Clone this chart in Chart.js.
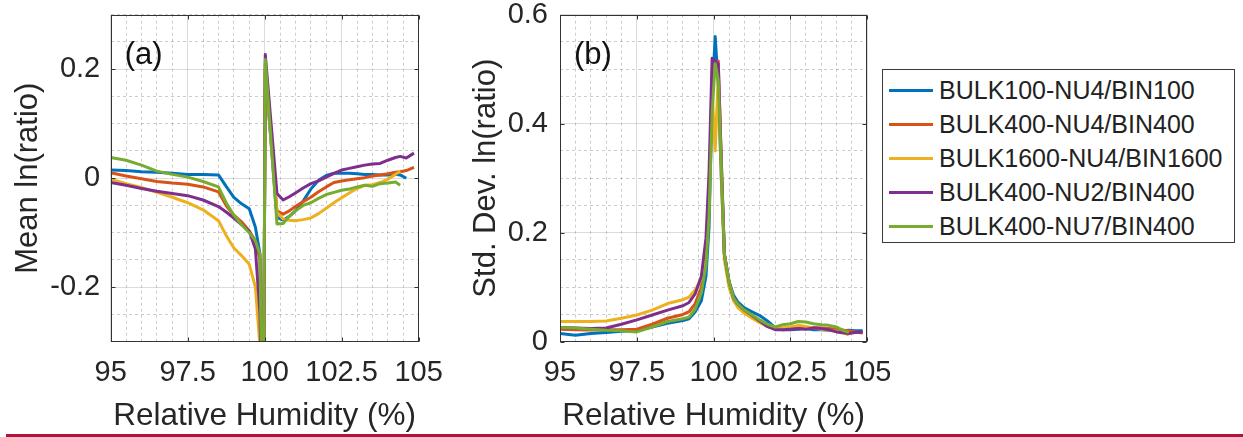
<!DOCTYPE html>
<html><head><meta charset="utf-8">
<script src="https://cdn.jsdelivr.net/npm/chart.js@4.4.1/dist/chart.umd.min.js"></script>
<style>
html,body{margin:0;padding:0;background:#fff;}
#wrap{position:relative;width:1243px;height:437px;overflow:hidden;font-family:"Liberation Sans",Arial,Helvetica,sans-serif;}
canvas{position:absolute;top:0;}
#cA{left:0;}
#cB{left:440px;}
#legend{position:absolute;left:882px;top:69px;width:353px;height:174px;box-sizing:border-box;border:1px solid #3a3a3a;background:#fff;padding-top:3px;}
.row{height:34px;display:flex;align-items:center;}
.sw{display:inline-block;width:44px;height:3px;margin-left:6px;}
.lt{margin-left:6px;font-size:25px;color:#222;white-space:nowrap;}
#rule{position:absolute;left:6px;top:434px;width:1237px;height:3px;background:#b5123a;}
</style>
</head><body>
<div id="wrap">
<canvas id="cA" width="470" height="437"></canvas>
<canvas id="cB" width="460" height="437"></canvas>
<div id="legend"></div>
<div id="rule"></div>
</div>
<script>
// ---------- data ----------
const seriesNames = ['BULK100-NU4/BIN100','BULK400-NU4/BIN400','BULK1600-NU4/BIN1600','BULK400-NU2/BIN400','BULK400-NU7/BIN400'];
const seriesColors = ['#0072BD','#D95319','#EDB120','#7E2F8E','#77AC30'];

const xTickLabels = ['95','97.5','100','102.5','105'];
const yTickLabelsA = ['-0.2','0','0.2'];
const yTickLabelsB = ['0','0.2','0.4','0.6'];

// panel (a): mean ln(ratio)
const rhA = [95,95.5,96,96.5,97,97.5,98,98.5,98.75,99,99.25,99.5,99.7,99.85,99.95,100.02,100.4,100.6,100.8,101,101.25,101.5,101.75,102,102.25,102.5,102.75,103,103.25,103.5,103.75,104,104.25,104.4,104.6,104.85];
const meanBulk100Nu4 = [0.015,0.014,0.012,0.011,0.009,0.007,0.007,0.006,-0.015,-0.035,-0.047,-0.056,-0.09,-0.14,-0.6,0.2,-0.072,-0.077,-0.07,-0.06,-0.042,-0.02,-0.004,0.005,0.009,0.009,0.009,0.008,0.007,0.007,0.006,0.006,0.007,0.006,0.0,null];
const meanBulk400Nu4 = [0.010,0.004,-0.001,-0.006,-0.009,-0.011,-0.016,-0.025,-0.05,-0.068,-0.08,-0.097,-0.115,-0.15,-0.6,0.21,-0.06,-0.066,-0.06,-0.052,-0.043,-0.035,-0.025,-0.016,-0.008,-0.005,-0.003,-0.001,0.001,0.004,0.006,0.008,0.011,0.012,0.014,0.02];
const meanBulk1600Nu4 = [-0.002,-0.01,-0.017,-0.026,-0.035,-0.045,-0.058,-0.078,-0.105,-0.128,-0.142,-0.158,-0.2,-0.31,-0.6,0.2,-0.063,-0.075,-0.077,-0.078,-0.076,-0.073,-0.065,-0.055,-0.045,-0.036,-0.027,-0.019,-0.013,-0.012,-0.008,-0.002,0.007,0.013,null,null];
const meanBulk400Nu2 = [-0.008,-0.013,-0.019,-0.024,-0.028,-0.032,-0.04,-0.052,-0.062,-0.073,-0.085,-0.097,-0.13,-0.25,-0.6,0.227,-0.028,-0.04,-0.034,-0.027,-0.018,-0.01,-0.005,0.002,0.009,0.015,0.018,0.021,0.024,0.026,0.027,0.033,0.038,0.04,0.037,0.046];
const meanBulk400Nu7 = [0.038,0.033,0.024,0.013,0.007,0.002,-0.006,-0.016,-0.045,-0.068,-0.085,-0.1,-0.115,-0.14,-0.6,0.218,-0.084,-0.083,-0.07,-0.06,-0.05,-0.045,-0.037,-0.03,-0.026,-0.022,-0.02,-0.016,-0.013,-0.015,-0.01,-0.009,-0.007,-0.013,null,null];

// panel (b): std. dev. ln(ratio)
const rhB = [95,95.5,96,96.5,97,97.5,98,98.5,99,99.2,99.4,99.6,99.75,99.85,99.95,100.05,100.15,100.25,100.35,100.5,100.65,100.8,101,101.25,101.5,101.75,102,102.25,102.5,102.75,103,103.25,103.5,103.75,104,104.25,104.4,104.6,104.85];
const sdBulk100Nu4 = [0.015,0.012,0.015,0.017,0.019,0.021,0.027,0.034,0.039,0.042,0.055,0.075,0.12,0.21,0.45,0.56,0.47,0.3,0.16,0.11,0.085,0.072,0.062,0.055,0.048,0.038,0.026,0.022,0.022,0.023,0.024,0.022,0.022,0.021,0.02,0.02,0.021,0.02,0.02];
const sdBulk400Nu4 = [0.023,0.022,0.0215,0.022,0.022,0.023,0.032,0.043,0.05,0.055,0.07,0.1,0.16,0.26,0.46,0.51,0.515,0.33,0.16,0.11,0.078,0.066,0.056,0.046,0.037,0.028,0.024,0.024,0.025,0.026,0.026,0.026,0.025,0.024,0.023,0.021,0.02,0.018,0.016];
const sdBulk1600Nu4 = [0.037,0.037,0.037,0.038,0.043,0.049,0.058,0.07,0.077,0.082,0.095,0.115,0.16,0.25,0.46,0.35,0.49,0.3,0.15,0.1,0.075,0.062,0.052,0.043,0.035,0.028,0.025,0.025,0.027,0.03,0.028,0.025,0.023,0.021,0.019,0.016,0.012,null,null];
const sdBulk400Nu2 = [0.026,0.025,0.024,0.025,0.032,0.04,0.049,0.058,0.066,0.072,0.088,0.12,0.19,0.31,0.52,0.515,0.51,0.33,0.16,0.11,0.08,0.068,0.058,0.048,0.038,0.028,0.022,0.022,0.023,0.024,0.023,0.025,0.024,0.022,0.018,0.016,0.015,0.017,0.018];
const sdBulk400Nu7 = [0.026,0.025,0.023,0.021,0.02,0.018,0.027,0.037,0.042,0.045,0.06,0.09,0.14,0.23,0.42,0.51,0.48,0.32,0.16,0.11,0.08,0.068,0.058,0.049,0.04,0.032,0.027,0.031,0.033,0.037,0.036,0.033,0.031,0.03,0.027,0.02,0.017,null,null];

// ---------- helpers ----------
const FONT = '"Liberation Sans", Arial, Helvetica, sans-serif';
const TXT = '#262626';
function labelFor(list, v){
  for (const s of list){ if (Math.abs(parseFloat(s) - v) < 1e-6) return s; }
  return null;
}
function toPoints(xs, ys){
  const out = [];
  xs.forEach((x,i)=>{ if (ys[i] !== null && ys[i] !== undefined) out.push({x:x, y:ys[i]}); });
  return out;
}
function makeDatasets(xs, arrays){
  return arrays.map((ys,i)=>({
    label: seriesNames[i],
    data: toPoints(xs, ys),
    borderColor: seriesColors[i],
    backgroundColor: seriesColors[i],
    borderWidth: 3,
    pointRadius: 0,
    tension: 0,
    fill: false,
    clip: 0,
    borderJoinStyle: 'round',
    order: arrays.length - 1 - i
  }));
}

const boxPlugin = {
  id: 'panelBox',
  afterDatasetsDraw(chart, args, opts){
    const {ctx, chartArea:a} = chart;
    const sx = chart.scales.x, sy = chart.scales.y;
    ctx.save();
    ctx.strokeStyle = '#333';
    ctx.lineWidth = 1;
    const L = Math.round(a.left)+0.5, R = Math.round(a.right)-0.5, T = Math.round(a.top)+0.5, B = Math.round(a.bottom)-0.5;
    ctx.strokeRect(L, T, R-L, B-T);
    ctx.beginPath();
    sx.ticks.forEach(t=>{
      if (labelFor(opts.xLabels, t.value) === null) return;
      const p = Math.round(sx.getPixelForValue(t.value))+0.5;
      ctx.moveTo(p, B); ctx.lineTo(p, B-4);
      ctx.moveTo(p, T); ctx.lineTo(p, T+4);
    });
    sy.ticks.forEach(t=>{
      if (labelFor(opts.yLabels, t.value) === null) return;
      const p = Math.round(sy.getPixelForValue(t.value))+0.5;
      ctx.moveTo(L, p); ctx.lineTo(L+4, p);
      ctx.moveTo(R, p); ctx.lineTo(R-4, p);
    });
    ctx.stroke();
    ctx.fillStyle = '#111';
    ctx.font = '31px ' + FONT;
    ctx.textBaseline = 'middle';
    ctx.textAlign = 'left';
    ctx.fillText(opts.label, a.left + 14, a.top + 41);
    ctx.restore();
  }
};

function makeScales(cfg){
  const isMajorX = v => labelFor(xTickLabels, v) !== null;
  const isMajorY = v => labelFor(cfg.yLabels, v) !== null;
  return {
    x: {
      type: 'linear', min: 95, max: 105,
      afterFit: s => { s.height = cfg.xHeight; s.paddingLeft = 0; s.paddingRight = 0; s.paddingTop = 0; s.paddingBottom = 0; },
      ticks: {
        stepSize: 0.5, autoSkip: false, maxRotation: 0, padding: 17,
        color: TXT, font: {family: FONT, size: 29, lineHeight: 1},
        callback: v => labelFor(xTickLabels, v) || ''
      },
      grid: {
        drawTicks: false, lineWidth: 1,
        color: c => (c.tick && isMajorX(c.tick.value)) ? 'rgba(0,0,0,0.14)' : 'rgba(0,0,0,0.2)'
      },
      border: {display: false, dash: c => (c.tick && !isMajorX(c.tick.value)) ? [3,3] : []},
      title: {display: true, text: 'Relative Humidity (%)', color: TXT, font: {family: FONT, size: 31.5, lineHeight: 1}, padding: {top: 0, bottom: 5}}
    },
    y: {
      type: 'linear', min: cfg.yMin, max: cfg.yMax,
      afterFit: s => { s.width = cfg.yWidth; s.paddingLeft = 0; s.paddingRight = 0; s.paddingTop = 0; s.paddingBottom = 0; },
      ticks: {
        stepSize: 0.05, autoSkip: false, padding: cfg.yTickPad,
        color: TXT, font: {family: FONT, size: 29, lineHeight: 1},
        callback: v => labelFor(cfg.yLabels, v) || ''
      },
      grid: {
        drawTicks: false, lineWidth: 1,
        color: c => (c.tick && isMajorY(c.tick.value)) ? 'rgba(0,0,0,0.14)' : 'rgba(0,0,0,0.2)'
      },
      border: {display: false, dash: c => (c.tick && !isMajorY(c.tick.value)) ? [3,3] : []},
      title: {display: true, text: cfg.yTitle, color: TXT, font: {family: FONT, size: 31, lineHeight: 1}, padding: {top: cfg.yTitlePad, bottom: 0}}
    }
  };
}

function makeChart(id, xs, arrays, cfg){
  return new Chart(document.getElementById(id), {
    type: 'line',
    data: {datasets: makeDatasets(xs, arrays)},
    options: {
      responsive: false, animation: false, devicePixelRatio: 1,
      layout: {padding: {left: 0, top: cfg.padTop, right: cfg.padRight, bottom: 0}},
      plugins: {legend: {display: false}, tooltip: {enabled: false}, title: {display: false},
        panelBox: {label: cfg.label, xLabels: xTickLabels, yLabels: cfg.yLabels}},
      scales: makeScales(cfg)
    },
    plugins: [boxPlugin]
  });
}

makeChart('cA', rhA, [meanBulk100Nu4, meanBulk400Nu4, meanBulk1600Nu4, meanBulk400Nu2, meanBulk400Nu7], {
  label: '(a)', yMin: -0.3, yMax: 0.3, yLabels: yTickLabelsA, yTitle: 'Mean ln(ratio)',
  yWidth: 110.7, xHeight: 95.3, padTop: 14.7, padRight: 470 - 418.6, yTickPad: 10.5, yTitlePad: 12.5
});
makeChart('cB', rhB, [sdBulk100Nu4, sdBulk400Nu4, sdBulk1600Nu4, sdBulk400Nu2, sdBulk400Nu7], {
  label: '(b)', yMin: 0, yMax: 0.6, yLabels: yTickLabelsB, yTitle: 'Std. Dev. ln(ratio)',
  yWidth: 120, xHeight: 95.3, padTop: 14.7, padRight: 460 - 427.3, yTickPad: 12, yTitlePad: 31
});

const lg = document.getElementById('legend');
seriesNames.forEach((n,i)=>{
  const r = document.createElement('div'); r.className = 'row';
  const s = document.createElement('span'); s.className = 'sw'; s.style.background = seriesColors[i];
  const t = document.createElement('span'); t.className = 'lt'; t.textContent = n;
  r.appendChild(s); r.appendChild(t); lg.appendChild(r);
});
</script>
</body></html>
